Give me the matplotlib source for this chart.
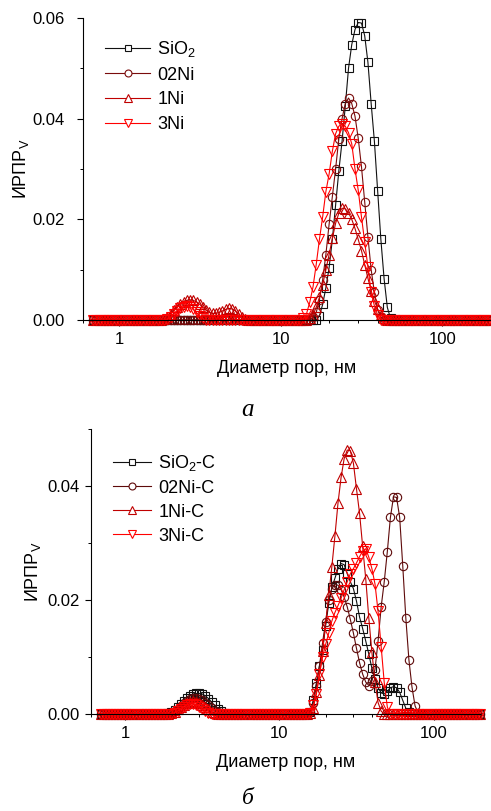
import matplotlib
matplotlib.use("Agg")
import matplotlib.pyplot as plt
from matplotlib import ticker
from matplotlib.lines import Line2D

plt.rcParams['font.family'] = ['Liberation Sans', 'DejaVu Sans']
plt.rcParams['mathtext.fontset'] = 'custom'
plt.rcParams['mathtext.rm'] = 'Liberation Sans'
plt.rcParams['mathtext.it'] = 'Liberation Sans:italic'

# pore diameter, nm (log grid)
diam = [0.692, 0.724, 0.759, 0.794, 0.832, 0.871, 0.912, 0.955, 1.000, 1.047,
        1.096, 1.148, 1.202, 1.259, 1.318, 1.380, 1.445, 1.514, 1.585, 1.660,
        1.738, 1.820, 1.905, 1.995, 2.089, 2.188, 2.291, 2.399, 2.512, 2.630,
        2.754, 2.884, 3.020, 3.162, 3.311, 3.467, 3.631, 3.802, 3.981, 4.169,
        4.365, 4.571, 4.786, 5.012, 5.248, 5.495, 5.754, 6.026, 6.310, 6.607,
        6.918, 7.244, 7.586, 7.943, 8.318, 8.710, 9.120, 9.550, 10.00, 10.47,
        10.96, 11.48, 12.02, 12.59, 13.18, 13.80, 14.45, 15.14, 15.85, 16.60,
        17.38, 18.20, 19.05, 19.95, 20.89, 21.88, 22.91, 23.99, 25.12, 26.30,
        27.54, 28.84, 30.20, 31.62, 33.11, 34.67, 36.31, 38.02, 39.81, 41.69,
        43.65, 45.71, 47.86, 50.12, 52.48, 54.95, 57.54, 60.26, 63.10, 66.07,
        69.18, 72.44, 75.86, 79.43, 83.18, 87.10, 91.20, 95.50, 100.0, 104.7,
        109.6, 114.8, 120.2, 125.9, 131.8, 138.0, 144.5, 151.4, 158.5, 166.0,
        173.8, 182.0, 190.5, 199.5]

# ---- panel a ----
sio2 = [0, 0, 0, 0, 0, 0, 0, 0, 0, 0,
        0, 0, 0, 0, 0, 0, 0, 0, 0, 0,
        0, 0, 0, 0, 0, 0, 0, 0, 0, 0,
        0, 0, 0, 0, 0, 0, 0, 0, 0, 0,
        0, 0, 0, 0, 0, 0, 0, 0, 0, 0,
        0, 0, 0, 0, 0, 0, 0, 0, 0, 0,
        0, 0, 0, 0, 0, 0, 0, 0, 0, 0,
        0.0008, 0.0031, 0.0064, 0.0104, 0.0160, 0.0228, 0.0296, 0.0355, 0.0425, 0.0500,
        0.0547, 0.0577, 0.0591, 0.0590, 0.0565, 0.0512, 0.0430, 0.0355, 0.0257, 0.0160,
        0.0082, 0.0025, 0.0003, 0, 0, 0, 0, 0, 0, 0,
        0, 0, 0, 0, 0, 0, 0, 0, 0, 0,
        0, 0, 0, 0, 0, 0, 0, 0, 0, 0,
        0, 0, 0, 0]
ni02 = [0, 0, 0, 0, 0, 0, 0, 0, 0, 0,
        0, 0, 0, 0, 0, 0, 0, 0, 0, 0,
        0, 0, 0, 0, 0, 0, 0, 0, 0, 0,
        0, 0, 0, 0, 0, 0, 0, 0, 0, 0,
        0, 0, 0, 0, 0, 0, 0, 0, 0, 0,
        0, 0, 0, 0, 0, 0, 0, 0, 0, 0,
        0, 0, 0, 0, 0, 0, 0, 0, 0.0005, 0.0015,
        0.0040, 0.0080, 0.0130, 0.0190, 0.0245, 0.0300, 0.0360, 0.0400, 0.0430, 0.0441,
        0.0430, 0.0405, 0.0361, 0.0305, 0.0235, 0.0165, 0.0100, 0.0055, 0.0020, 0.0005,
        0, 0, 0, 0, 0, 0, 0, 0, 0, 0,
        0, 0, 0, 0, 0, 0, 0, 0, 0, 0,
        0, 0, 0, 0, 0, 0, 0, 0, 0, 0,
        0, 0, 0, 0]
ni1 = [0, 0, 0, 0, 0, 0, 0, 0, 0, 0,
       0, 0, 0, 0, 0, 0, 0, 0, 0, 0,
       0, 0, 0.0002, 0.0006, 0.0012, 0.0019, 0.0026, 0.0032, 0.0036, 0.0039,
       0.0040, 0.0039, 0.0036, 0.0031, 0.0025, 0.0019, 0.0015, 0.0013, 0.0013, 0.0015,
       0.0018, 0.0021, 0.0023, 0.0022, 0.0018, 0.0012, 0.0006, 0.0002, 0, 0,
       0, 0, 0, 0, 0, 0, 0, 0, 0, 0,
       0, 0, 0, 0, 0, 0, 0, 0.0003, 0.0010, 0.0025,
       0.0045, 0.0070, 0.0100, 0.0130, 0.0162, 0.0192, 0.0212, 0.0222, 0.0221, 0.0213,
       0.0200, 0.0182, 0.0160, 0.0138, 0.0110, 0.0083, 0.0058, 0.0038, 0.0022, 0.0010,
       0.0003, 0, 0, 0, 0, 0, 0, 0, 0, 0,
       0, 0, 0, 0, 0, 0, 0, 0, 0, 0,
       0, 0, 0, 0, 0, 0, 0, 0, 0, 0,
       0, 0, 0, 0]
ni3 = [0, 0, 0, 0, 0, 0, 0, 0, 0, 0,
       0, 0, 0, 0, 0, 0, 0, 0, 0, 0,
       0, 0, 0, 0.0002, 0.0006, 0.0012, 0.0018, 0.0023, 0.0026, 0.0027,
       0.0026, 0.0022, 0.0015, 0.0008, 0.0003, 0, 0, 0, 0, 0,
       0, 0, 0, 0, 0, 0, 0, 0, 0, 0,
       0, 0, 0, 0, 0, 0, 0, 0, 0, 0,
       0, 0, 0, 0, 0, 0.0003, 0.0012, 0.0035, 0.0065, 0.0110,
       0.0160, 0.0205, 0.0255, 0.0290, 0.0335, 0.0370, 0.0385, 0.0389, 0.0385, 0.0372,
       0.0350, 0.0300, 0.0258, 0.0205, 0.0155, 0.0105, 0.0055, 0.0028, 0.0010, 0,
       0, 0, 0, 0, 0, 0, 0, 0, 0, 0,
       0, 0, 0, 0, 0, 0, 0, 0, 0, 0,
       0, 0, 0, 0, 0, 0, 0, 0, 0, 0,
       0, 0, 0, 0]

# ---- panel b ----
sio2_c = [0, 0, 0, 0, 0, 0, 0, 0, 0, 0,
          0, 0, 0, 0, 0, 0, 0, 0, 0, 0,
          0, 0, 0.0001, 0.0003, 0.0007, 0.0012, 0.0018, 0.0023, 0.0028, 0.0032,
          0.0035, 0.0036, 0.0036, 0.0035, 0.0032, 0.0027, 0.0021, 0.0015, 0.0009, 0.0005,
          0.0002, 0, 0, 0, 0, 0, 0, 0, 0, 0,
          0, 0, 0, 0, 0, 0, 0, 0, 0, 0,
          0, 0, 0, 0, 0, 0, 0, 0, 0.0003, 0.0025,
          0.0055, 0.0085, 0.0112, 0.0155, 0.0194, 0.0222, 0.0238, 0.0255, 0.0264, 0.0262,
          0.0246, 0.0232, 0.0220, 0.0198, 0.0170, 0.0150, 0.0128, 0.0105, 0.0080, 0.0062,
          0.0046, 0.0037, 0.0035, 0.0040, 0.0046, 0.0048, 0.0046, 0.0038, 0.0024, 0.0010,
          0.0003, 0, 0, 0, 0, 0, 0, 0, 0, 0,
          0, 0, 0, 0, 0, 0, 0, 0, 0, 0,
          0, 0, 0, 0]
ni02_c = [0, 0, 0, 0, 0, 0, 0, 0, 0, 0,
          0, 0, 0, 0, 0, 0, 0, 0, 0, 0,
          0, 0, 0, 0.0002, 0.0005, 0.0009, 0.0014, 0.0019, 0.0023, 0.0026,
          0.0028, 0.0028, 0.0027, 0.0024, 0.0020, 0.0015, 0.0010, 0.0006, 0.0003, 0,
          0, 0, 0, 0, 0, 0, 0, 0, 0, 0,
          0, 0, 0, 0, 0, 0, 0, 0, 0, 0,
          0, 0, 0, 0, 0, 0, 0, 0, 0.0003, 0.0020,
          0.0050, 0.0085, 0.0125, 0.0162, 0.0200, 0.0220, 0.0227, 0.0226, 0.0218, 0.0205,
          0.0188, 0.0166, 0.0142, 0.0115, 0.0090, 0.0070, 0.0056, 0.0050, 0.0058, 0.0078,
          0.0128, 0.0188, 0.0232, 0.0285, 0.0345, 0.0381, 0.0380, 0.0345, 0.0260, 0.0168,
          0.0095, 0.0047, 0.0014, 0.0002, 0, 0, 0, 0, 0, 0,
          0, 0, 0, 0, 0, 0, 0, 0, 0, 0,
          0, 0, 0, 0]
ni1_c = [0, 0, 0, 0, 0, 0, 0, 0, 0, 0,
         0, 0, 0, 0, 0, 0, 0, 0, 0, 0,
         0, 0, 0, 0.0001, 0.0004, 0.0008, 0.0012, 0.0016, 0.0019, 0.0021,
         0.0022, 0.0021, 0.0019, 0.0016, 0.0012, 0.0008, 0.0004, 0.0001, 0, 0,
         0, 0, 0, 0, 0, 0, 0, 0, 0, 0,
         0, 0, 0, 0, 0, 0, 0, 0, 0, 0,
         0, 0, 0, 0, 0, 0, 0, 0, 0.0002, 0.0010,
         0.0038, 0.0068, 0.0110, 0.0160, 0.0208, 0.0258, 0.0312, 0.0370, 0.0415, 0.0448,
         0.0463, 0.0462, 0.0440, 0.0395, 0.0352, 0.0294, 0.0237, 0.0168, 0.0108, 0.0057,
         0.0020, 0.0005, 0, 0, 0, 0, 0, 0, 0, 0,
         0, 0, 0, 0, 0, 0, 0, 0, 0, 0,
         0, 0, 0, 0, 0, 0, 0, 0, 0, 0,
         0, 0, 0, 0]
ni3_c = [0, 0, 0, 0, 0, 0, 0, 0, 0, 0,
         0, 0, 0, 0, 0, 0, 0, 0, 0, 0,
         0, 0, 0, 0, 0.0002, 0.0005, 0.0009, 0.0013, 0.0016, 0.0018,
         0.0018, 0.0016, 0.0013, 0.0009, 0.0005, 0.0002, 0, 0, 0, 0,
         0, 0, 0, 0, 0, 0, 0, 0, 0, 0,
         0, 0, 0, 0, 0, 0, 0, 0, 0, 0,
         0, 0, 0, 0, 0, 0, 0, 0, 0.0002, 0.0015,
         0.0035, 0.0070, 0.0100, 0.0122, 0.0142, 0.0163, 0.0178, 0.0190, 0.0203, 0.0218,
         0.0232, 0.0246, 0.0255, 0.0265, 0.0276, 0.0286, 0.0290, 0.0275, 0.0255, 0.0228,
         0.0180, 0.0118, 0.0055, 0.0012, 0, 0, 0, 0, 0, 0,
         0, 0, 0, 0, 0, 0, 0, 0, 0, 0,
         0, 0, 0, 0, 0, 0, 0, 0, 0, 0,
         0, 0, 0, 0]

labels_a = [r'SiO$_\mathregular{2}$', '02Ni', '1Ni', '3Ni']
labels_b = [r'SiO$_\mathregular{2}$-C', '02Ni-C', '1Ni-C', '3Ni-C']
markers = ['s', 'o', '^', 'v']
colors_a = ['#111111', '#7a0c0c', '#c00000', '#ff0000']
colors_b = ['#111111', '#5e0a0a', '#c00000', '#ff0000']


def draw(ax, series, labels, colors, ymax, ypad):
    handles = []
    for y, lab, m, c in zip(series, labels, markers, colors):
        ms = 7 if m in '^v' else 6
        ax.plot(diam, y, marker=m, ms=ms, mfc='none', mec=c, mew=0.8,
                color=c, lw=0.8, clip_on=False)
        # legend key: marker sits on the line with a white gap, as in Origin
        handles.append(Line2D([], [], marker=m, ms=ms - 1, mfc='white', mec=c,
                              mew=0.8, color=c, lw=0.8, label=lab))
    ax.set_xscale('log')
    ax.set_xlim(0.6, 200)
    ax.set_ylim(0, ymax)
    ax.spines['top'].set_visible(False)
    ax.spines['right'].set_visible(False)
    for s in ('left', 'bottom'):
        ax.spines[s].set_linewidth(0.8)
    ax.xaxis.set_major_formatter(ticker.FuncFormatter(lambda v, p: f'{v:g}'))
    ax.xaxis.set_minor_formatter(ticker.NullFormatter())
    ax.yaxis.set_major_locator(ticker.MultipleLocator(0.02))
    ax.yaxis.set_minor_locator(ticker.MultipleLocator(0.01))
    ax.yaxis.set_major_formatter(ticker.FormatStrFormatter('%.2f'))
    ax.tick_params(which='major', length=4, width=0.8, labelsize=12)
    ax.tick_params(which='minor', length=2.3, width=0.7)
    ax.tick_params(axis='x', which='major', pad=5)
    ax.tick_params(axis='y', which='major', pad=ypad)
    ax.set_xlabel('Диаметр пор, нм', fontsize=13, labelpad=9)
    ax.set_ylabel(r'ИРПР$_\mathregular{V}$', fontsize=13)
    return handles


fig = plt.figure(figsize=(4.91, 8.11), dpi=100)
ax1 = fig.add_axes([83 / 491, 1 - 320 / 811, 408 / 491, 302 / 811])
ax2 = fig.add_axes([91 / 491, 1 - 714 / 811, 389 / 491, 285 / 811])

h1 = draw(ax1, [sio2, ni02, ni1, ni3], labels_a, colors_a, 0.06, 9)
h2 = draw(ax2, [sio2_c, ni02_c, ni1_c, ni3_c], labels_b, colors_b, 0.05, 4)

ax1.yaxis.set_label_coords(-0.128, 0.5)
ax2.yaxis.set_label_coords(-0.123, 0.5)

ax1.legend(handles=h1, loc='upper left', bbox_to_anchor=(0.054, 0.93),
           frameon=False, fontsize=13, handlelength=2.5, handletextpad=0.4,
           labelspacing=0.42, borderpad=0, borderaxespad=0)
ax2.legend(handles=h2, loc='upper left', bbox_to_anchor=(0.057, 0.916),
           frameon=False, fontsize=13, handlelength=2.1, handletextpad=0.4,
           labelspacing=0.38, borderpad=0, borderaxespad=0)

fig.text(248 / 491, 1 - 410 / 811, 'а', family='Liberation Serif', style='italic',
         fontsize=18, ha='center', va='center')
fig.text(248 / 491, 1 - 798 / 811, 'б', family='Liberation Serif', style='italic',
         fontsize=17, ha='center', va='center')

fig.savefig('out.png', dpi=100)
